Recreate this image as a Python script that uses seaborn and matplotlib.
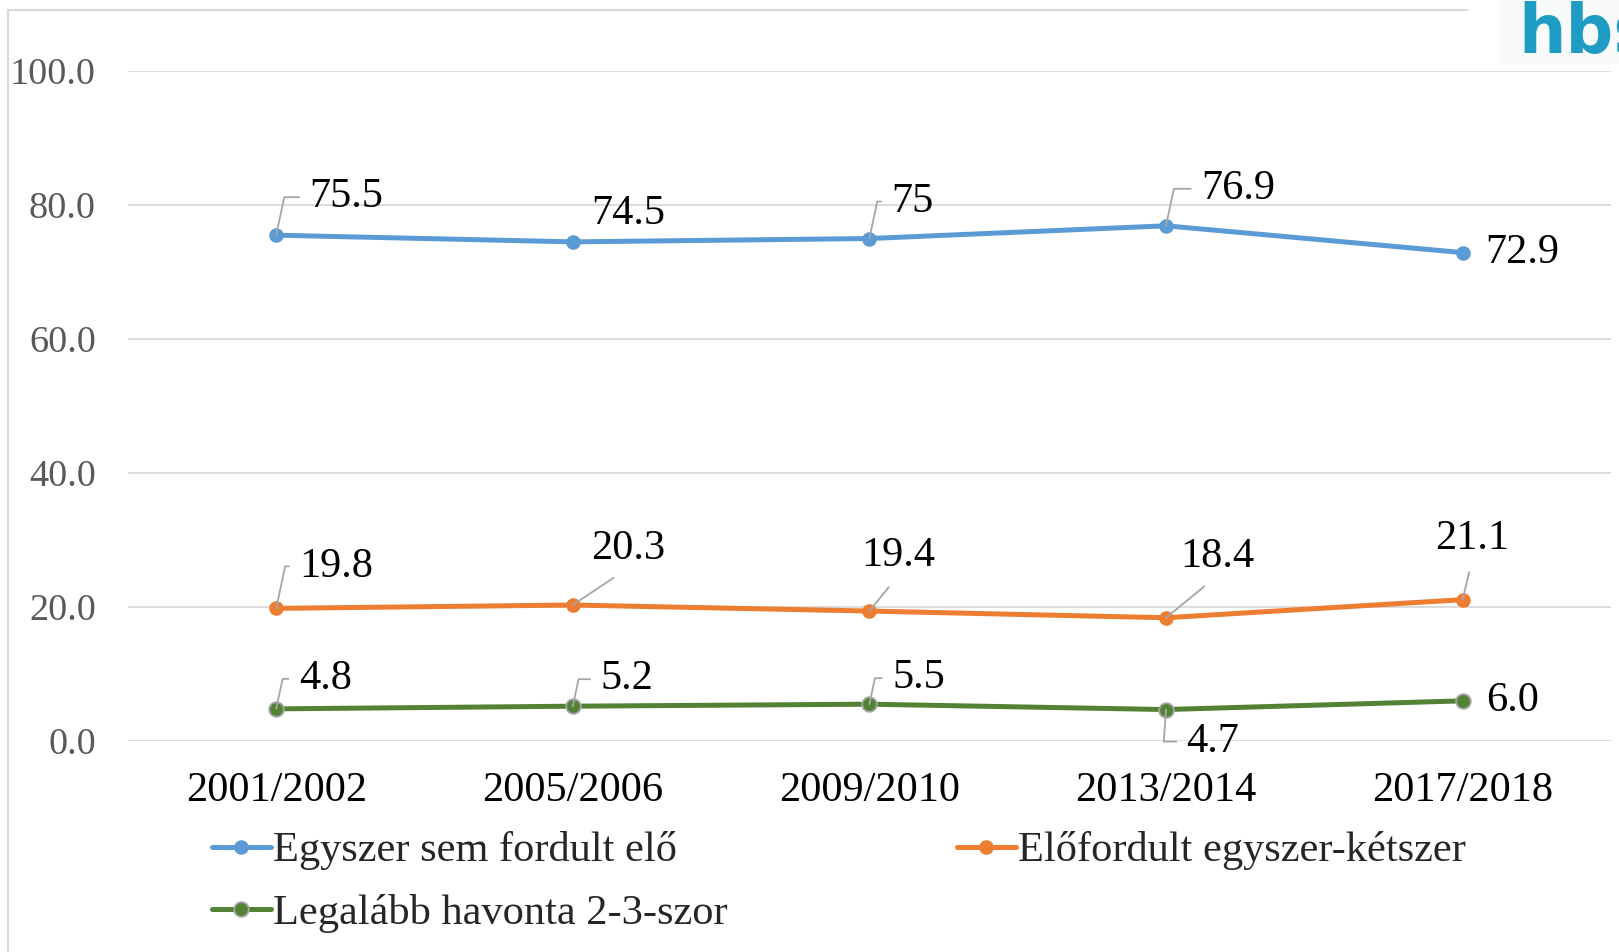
import pandas as pd
import matplotlib.pyplot as plt
import seaborn as sns
from matplotlib.lines import Line2D

years = ["2001/2002", "2005/2006", "2009/2010", "2013/2014", "2017/2018"]
never = [75.5, 74.5, 75.0, 76.9, 72.9]
once_twice = [19.8, 20.3, 19.4, 18.4, 21.1]
monthly = [4.8, 5.2, 5.5, 4.7, 6.0]

never_labels = ["75.5", "74.5", "75", "76.9", "72.9"]
once_twice_labels = ["19.8", "20.3", "19.4", "18.4", "21.1"]
monthly_labels = ["4.8", "5.2", "5.5", "4.7", "6.0"]

series_names = ["Egyszer sem fordult elő", "Előfordult egyszer-kétszer",
                "Legalább havonta 2-3-szor"]

# label offsets in pixels (dx, dy) and leader style
never_pos = [(70, 38, "hook"), (55, 28, None), (43, 37, "hook"), (72, 37, "hook"), (60, 0, None)]
once_pos = [(60, 42, "hook"), (55, 56, "line"), (29, 55, "line"), (51, 61, "line"), (10, 61, "line")]
monthly_pos = [(49, 30, "hook"), (54, 27, "hook"), (49, 26, "hook"), (47, -32, "hookdown"), (50, 0, None)]

sns.set_style("white")
plt.rcParams['font.family'] = ['Liberation Serif', 'DejaVu Serif']

fig = plt.figure(figsize=(16.19, 9.52), dpi=100)
ax = fig.add_axes([0.079, 0.2216, 0.916, 0.7038])

x = list(range(len(years)))
df = pd.DataFrame({"x": x, "never": never, "once": once_twice, "monthly": monthly})

styles = [("never", "#5B9BD5", "#5B9BD5", series_names[0], never_labels, never_pos),
          ("once", "#ED7D31", "#ED7D31", series_names[1], once_twice_labels, once_pos),
          ("monthly", "#548235", "#A5A5A5", series_names[2], monthly_labels, monthly_pos)]

handles = {}
for col, color, edge, name, labels, pos in styles:
    sns.lineplot(data=df, x="x", y=col, ax=ax, color=color, linewidth=3.6,
                 marker="o", markersize=10.5, markeredgecolor=edge,
                 markeredgewidth=1.3 if edge != color else 0, label=name, zorder=3)
    handles[name] = ax.lines[-1]
    for xi, yi, lab, (dx, dy, kind) in zip(x, df[col], labels, pos):
        kw = dict(xy=(xi, yi), xytext=(dx * 0.72, dy * 0.72), textcoords="offset points",
                  ha="center", va="center", fontsize=30.5, color="black", zorder=4)
        if kind == "hook":
            kw["arrowprops"] = dict(arrowstyle="-", color="#A6A6A6", lw=1.3,
                                    relpos=(0, 0.5), shrinkA=5, shrinkB=0,
                                    connectionstyle="angle,angleA=0,angleB=78,rad=0")
        elif kind == "hookdown":
            kw["arrowprops"] = dict(arrowstyle="-", color="#A6A6A6", lw=1.3,
                                    relpos=(0, 0.5), shrinkA=5, shrinkB=0,
                                    connectionstyle="angle,angleA=0,angleB=86,rad=0")
        elif kind == "line":
            kw["arrowprops"] = dict(arrowstyle="-", color="#A6A6A6", lw=1.3,
                                    relpos=(0.5, 0), shrinkA=8, shrinkB=0)
        ax.annotate(lab, **kw)

ax.set_xlim(-0.5, 4.5)
ax.set_ylim(0, 100)
ax.set_yticks([0, 20, 40, 60, 80, 100])
ax.set_yticklabels([f"{v:.1f}" for v in [0, 20, 40, 60, 80, 100]])
ax.set_xticks(x)
ax.set_xticklabels(years)
ax.tick_params(axis="y", labelsize=27.5, labelcolor="#595959", length=0, pad=23)
ax.tick_params(axis="x", labelsize=30.5, labelcolor="black", length=0, pad=22)
ax.set_xlabel("")
ax.set_ylabel("")
ax.grid(axis="y", color="#D9D9D9", linewidth=1.3)
for s in ax.spines.values():
    s.set_visible(False)

order = [series_names[0], series_names[2], series_names[1]]
ax.legend([handles[n] for n in order], order, ncol=2, frameon=False,
          loc="upper left", bbox_to_anchor=(0.0566, -0.135), fontsize=30.5,
          handlelength=1.4, handletextpad=0.05, columnspacing=5.4,
          labelspacing=0.55, borderaxespad=0, borderpad=0)

# outer frame lines
fig.add_artist(Line2D([8 / 1619, 1467 / 1619], [1 - 10 / 952, 1 - 10 / 952],
                      transform=fig.transFigure, color="#D9D9D9", lw=1.5))
fig.add_artist(Line2D([8 / 1619, 8 / 1619], [0, 1 - 10 / 952],
                      transform=fig.transFigure, color="#D9D9D9", lw=1.5))

# logo fragment
fig.patches.append(plt.Rectangle((1500 / 1619, 1 - 63 / 952), 119 / 1619, 63 / 952,
                                 transform=fig.transFigure, color="#F9FBFB", zorder=0))
fig.text(1518 / 1619, 1 - 53 / 952, "hbs", fontsize=48, fontweight="bold",
         family="DejaVu Sans", color="#1E9CC4", ha="left", va="baseline")

fig.savefig("out.png", dpi=100)
